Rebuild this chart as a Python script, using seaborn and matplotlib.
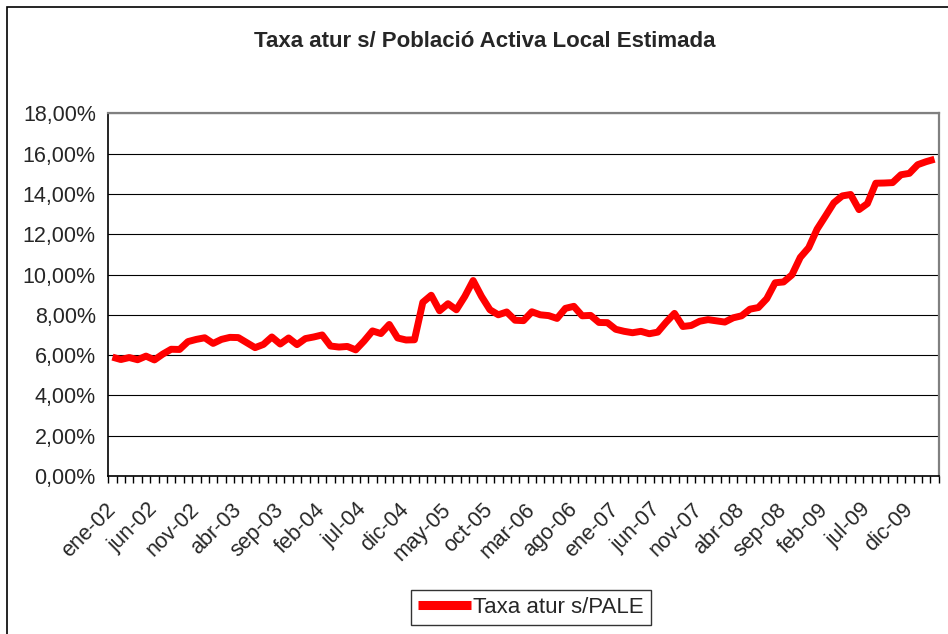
import matplotlib
matplotlib.use("Agg")
import matplotlib.pyplot as plt
import matplotlib.ticker as mticker
from matplotlib.patches import Rectangle
from matplotlib.transforms import ScaledTranslation
import pandas as pd
import seaborn as sns

TITLE = "Taxa atur s/ Població Activa Local Estimada"
SERIES = "Taxa atur s/PALE"
MONTHS = ["ene", "feb", "mar", "abr", "may", "jun",
          "jul", "ago", "sep", "oct", "nov", "dic"]
START_YEAR = 2002

# monthly rate (%) from ene-02 to mar-10
rate = [
    5.90, 5.78, 5.88, 5.77, 5.95, 5.76, 6.05, 6.29, 6.28, 6.67,
    6.78, 6.86, 6.58, 6.78, 6.88, 6.87, 6.62, 6.37, 6.53, 6.90,
    6.55, 6.85, 6.52, 6.82, 6.90, 7.00, 6.45, 6.40, 6.43, 6.26,
    6.70, 7.20, 7.07, 7.52, 6.85, 6.75, 6.76, 8.62, 8.97, 8.20,
    8.55, 8.25, 8.91, 9.70, 8.91, 8.25, 8.00, 8.14, 7.73, 7.71,
    8.15, 8.00, 7.96, 7.82, 8.32, 8.42, 7.95, 7.97, 7.62, 7.61,
    7.28, 7.18, 7.11, 7.18, 7.06, 7.14, 7.63, 8.07, 7.42, 7.47,
    7.68, 7.76, 7.70, 7.64, 7.85, 7.95, 8.28, 8.36, 8.80, 9.59,
    9.63, 9.98, 10.85, 11.33, 12.25, 12.90, 13.56, 13.90, 13.97, 13.22,
    13.52, 14.53, 14.54, 14.56, 14.95, 15.02, 15.45, 15.60, 15.72,
]
month_labels = [
    f"{MONTHS[i % 12]}-{(START_YEAR + i // 12) % 100:02d}" for i in range(len(rate))
]
label_step = 5

df = pd.DataFrame({"idx": range(len(rate)), "rate": rate, "month": month_labels})

sns.set_style("white")
plt.rcParams["font.family"] = ["Liberation Sans", "DejaVu Sans"]

fig = plt.figure(figsize=(9.48, 6.34), dpi=100)
ax = fig.add_axes([0.1142, 0.2492, 0.8760, 0.5721])

sns.lineplot(data=df, x="idx", y="rate", color="#ff0000", lw=5,
             label=SERIES, ax=ax, solid_joinstyle="round", solid_capstyle="butt")

ax.set_xlim(-0.5, len(rate) - 0.5)
ax.set_ylim(0, 18)
ax.set_xlabel("")
ax.set_ylabel("")

ax.yaxis.set_major_locator(mticker.MultipleLocator(2))
ax.yaxis.set_major_formatter(
    mticker.FuncFormatter(lambda v, _: f"{v:.2f}".replace(".", ",") + "%"))
ax.grid(axis="y", color="black", lw=0.8)
ax.tick_params(axis="y", which="major", direction="out", length=5, width=1,
               color="black", labelsize=15.5, pad=4)

ticks = df["idx"][::label_step]
ax.set_xticks(ticks)
ax.set_xticklabels(df["month"][::label_step], rotation=45, ha="right",
                   va="center", rotation_mode="anchor", fontsize=15.5)
shift = ScaledTranslation(-5 / 100, 0, fig.dpi_scale_trans)
for lab in ax.get_xticklabels():
    lab.set_transform(lab.get_transform() + shift)
ax.set_xticks([i - 0.5 for i in range(len(rate) + 1)], minor=True)
ax.tick_params(axis="x", which="major", length=0, pad=22)
ax.tick_params(axis="x", which="minor", direction="out", length=5, width=1,
               color="black", bottom=True)

for side in ["left", "bottom"]:
    ax.spines[side].set_color("black")
    ax.spines[side].set_linewidth(1.2)
for side in ["top", "right"]:
    ax.spines[side].set_color("#808080")
    ax.spines[side].set_linewidth(1.6)

fig.text(0.511, 0.935, TITLE, ha="center", va="center",
         fontsize=16, fontweight="bold")

leg = ax.legend(loc="center", bbox_to_anchor=(0.56, 0.042),
                bbox_transform=fig.transFigure, frameon=True, fancybox=False,
                fontsize=16, handlelength=2.4, borderpad=0.3, handletextpad=0.1,
                borderaxespad=0)
leg.get_frame().set_edgecolor("black")
leg.get_frame().set_linewidth(1)
for h in leg.get_lines():
    h.set_linewidth(6.5)

fig.patches.append(Rectangle((7 / 948, -0.05), 1.2, 1 - 7 / 634 + 0.05,
                             transform=fig.transFigure, fill=False,
                             ec="black", lw=1.2))

fig.savefig("out.png", dpi=100)
